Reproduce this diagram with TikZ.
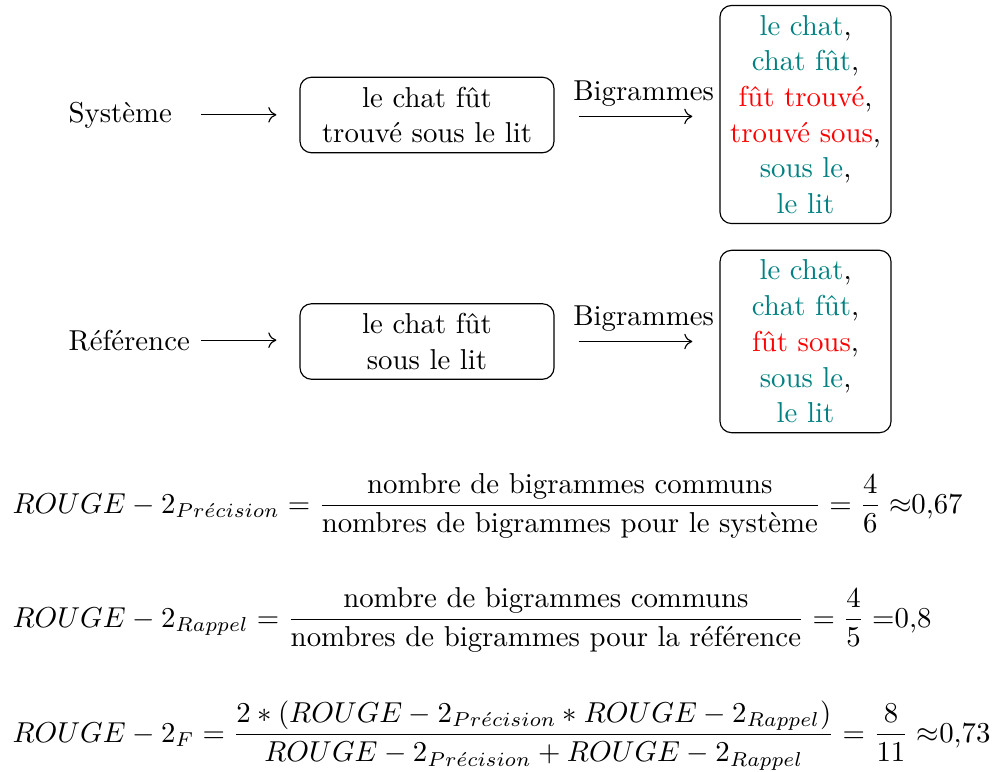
\documentclass[tikz,border=0pt]{standalone}
\usepackage{amsmath}
\usetikzlibrary{arrows.meta}
\begin{document}
\begin{tikzpicture}[x=0.3472pt,y=-0.3472pt,
  font={\fontsize{10}{12.4}\selectfont},
  lbl/.style={inner sep=0pt,anchor=base west,text width=44pt,align=left},
  txtbox/.style={draw,rounded corners=4pt,align=center,minimum width=88.2pt,minimum height=26pt},
  biglist/.style={draw,rounded corners=4pt,align=center,minimum width=59.4pt},
  tipstyle/.style={-{Computer Modern Rightarrow[length=2.8pt,width=5.4pt]}},
  arr/.style={tipstyle,shorten <=1.8pt,shorten >=8pt},
  bigarr/.style={tipstyle,shorten <=8.3pt,shorten >=9.4pt},
  eq/.style={inner sep=0pt,anchor=base west}]
\useasboundingbox (0,0) rectangle (992,771);

% Système row
\node[lbl] (sys) at (68,122) {Système};
\node[txtbox] (b1) at (427,115) {le chat fût\\trouvé sous le lit};
\node[biglist] (l1) at (805.5,114.5) {\textcolor{teal}{le chat},\\\textcolor{teal}{chat fût},\\\textcolor{red}{fût trouvé},\\\textcolor{red}{trouvé sous},\\\textcolor{teal}{sous le},\\\textcolor{teal}{le lit}};
\draw[arr] (sys.east) -- (sys.east -| b1.west);
\draw[bigarr] ([yshift=-0.5pt]b1.east) -- node[above,xshift=2.3pt,inner sep=3.2pt] (g1) {Bigrammes} ([yshift=-0.5pt]b1.east -| l1.west);

% Référence row
\node[lbl] (ref) at (68,350) {Référence};
\node[txtbox] (b2) at (427,341.5) {le chat fût\\sous le lit};
\node[biglist] (l2) at (805.5,341.5) {\textcolor{teal}{le chat},\\\textcolor{teal}{chat fût},\\\textcolor{red}{fût sous},\\\textcolor{teal}{sous le},\\\textcolor{teal}{le lit}};
\draw[arr] (ref.east) -- (ref.east -| b2.west);
\draw[bigarr] (b2.east) -- node[above,xshift=2.3pt,inner sep=3.2pt] (g2) {Bigrammes} (b2.east -| l2.west);

% Formulas
\node[eq] (e1) at (12,513) {$\displaystyle ROUGE-2_{Pr\acute{e}cision}=\frac{\text{nombre de bigrammes communs}}{\text{nombres de bigrammes pour le système}}=\frac{4}{6}$\hspace{2.78pt}$\approx$0,67};
\node[eq] (e2) at (12,627) {$\displaystyle ROUGE-2_{Rappel}=\frac{\text{nombre de bigrammes communs}}{\text{nombres de bigrammes pour la référence}}=\frac{4}{5}$\hspace{2.78pt}=0,8};
\node[eq] (e3) at (12,742) {$\displaystyle ROUGE-2_{F}=\frac{2*\left(ROUGE-2_{Pr\acute{e}cision}*ROUGE-2_{Rappel}\right)}{ROUGE-2_{Pr\acute{e}cision}+ROUGE-2_{Rappel}}=\frac{8}{11}$\hspace{2.78pt}$\approx$0,73};
\end{tikzpicture}
\end{document}
